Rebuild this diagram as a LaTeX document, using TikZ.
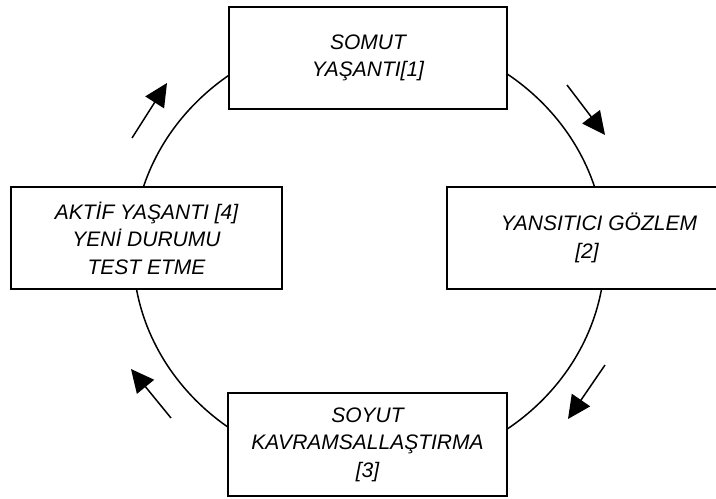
\documentclass[tikz,border=0pt]{standalone}
\usepackage{fontspec}
\setmainfont{Liberation Sans}
\usetikzlibrary{arrows.meta}
\tikzset{
  kutu/.style={draw,fill=white,line width=1pt,align=center,inner sep=0pt,
    minimum height=51pt,font=\itshape\fontsize{10.5}{13.8}\selectfont},
}
\begin{document}
\begin{tikzpicture}[x=0.5pt,y=-0.5pt,line width=0.75pt,>={Triangle[length=11.5pt,width=11pt]}]
\useasboundingbox (0,0) rectangle (716,498);
\clip (0,0) rectangle (716,498);
% döngü (elips)
\draw (369,251.5) ellipse [x radius=118pt,y radius=109.5pt];
% dört aşama kutusu
\node[kutu,minimum width=139pt] (somut) at (368,58) {SOMUT\\YAŞANTI[1]};
\node[kutu,minimum width=152pt] (yansitici) at (599,238) {YANSITICI GÖZLEM\\{[2]\hspace*{12pt}}};
\node[kutu,minimum width=139.5pt,minimum height=51.5pt] (soyut) at (367.5,444.5) {SOYUT\\KAVRAMSALLAŞTIRMA\\{[3]}};
\node[kutu,minimum width=135.5pt] (aktif) at (146.5,238) {AKTİF YAŞANTI [4]\\YENİ DURUMU\\TEST ETME};
% yön okları (saat yönünde)
\coordinate (b1) at (132,138); \coordinate (u1) at (167,83);
\coordinate (b2) at (567,85);  \coordinate (u2) at (605,135);
\coordinate (b3) at (605,365); \coordinate (u3) at (568,419);
\coordinate (b4) at (171,418); \coordinate (u4) at (131,369);
\foreach \i in {1,...,4}{
  \draw[->] (b\i) -- (u\i);
}
\end{tikzpicture}
\end{document}
